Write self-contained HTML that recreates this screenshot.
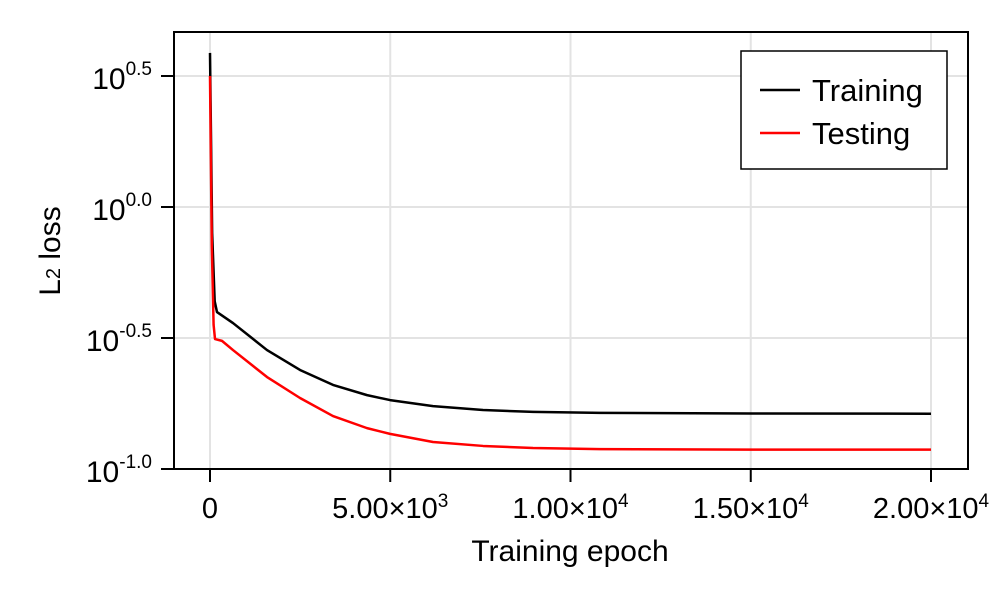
<!DOCTYPE html>
<html><head><meta charset="utf-8"><style>
html,body{margin:0;padding:0;background:#fff;}
svg{display:block;font-family:"Liberation Sans",sans-serif;}
</style></head><body>
<svg id="chart" width="1000" height="600" viewBox="0 0 1000 600" xmlns="http://www.w3.org/2000/svg">
<g id="grid"></g>
<g id="series"></g>
<rect x="174" y="32" width="794" height="437" fill="none" stroke="#000" stroke-width="2"/>
<g id="axes"></g>
<text x="570" y="561" font-size="30" text-anchor="middle">Training epoch</text>
<text transform="translate(60,251) rotate(-90)" font-size="30" text-anchor="middle">L<tspan font-size="20">2</tspan> loss</text>
<g>
<rect x="741" y="51" width="206" height="118" fill="#fff" stroke="#000" stroke-width="1.5"/>
<line x1="760" y1="90" x2="800" y2="90" stroke="#000" stroke-width="2.5"/>
<text x="812" y="101" font-size="31">Training</text>
<line x1="760" y1="133" x2="800" y2="133" stroke="#f00" stroke-width="2.5"/>
<text x="812" y="144" font-size="31">Testing</text>
</g>
</svg>
<script>
const trainEpochs = [0,60,130,194,638,1581,2497,3412,4355,4993,6186,7573,8960,10819,15000,20000];
const trainLog10  = [0.588,-0.1,-0.36,-0.401,-0.443,-0.546,-0.622,-0.679,-0.718,-0.737,-0.760,-0.775,-0.782,-0.786,-0.788,-0.789];
const testEpochs  = [0,50,100,139,333,638,1581,2497,3412,4355,4993,6186,7573,8960,10819,15000,20000];
const testLog10   = [0.5,-0.15,-0.45,-0.504,-0.511,-0.546,-0.649,-0.729,-0.798,-0.844,-0.866,-0.897,-0.912,-0.920,-0.924,-0.926,-0.926];
const xTicks = [0,5000,10000,15000,20000];
const xTickMant = ["0","5.00","1.00","1.50","2.00"];
const xTickExp = ["","3","4","4","4"];
const yTicks = [-1.0,-0.5,0.0,0.5];
const yTickLabels = ["-1.0","-0.5","0.0","0.5"];

const NS="http://www.w3.org/2000/svg";
const xs = v => 210 + v/20000*721;
const ys = v => 207 - v*262;
function mk(tag, attrs, parent){const e=document.createElementNS(NS,tag);for(const k in attrs)e.setAttribute(k,attrs[k]);parent.appendChild(e);return e;}
const grid=document.getElementById('grid'), axes=document.getElementById('axes'), series=document.getElementById('series');

xTicks.forEach((t,i)=>{
  const g=mk('line',{x1:xs(t),x2:xs(t),y1:32,y2:469,stroke:'#e3e3e3','stroke-width':2},grid);
  
  
  const tk=mk('line',{x1:xs(t),x2:xs(t),y1:469,y2:482,stroke:'#000','stroke-width':2},axes);
  
  
  const tx=mk('text',{x:xs(t),y:518,'font-size':29,'text-anchor':'middle'},axes);
  
  
  if(xTickExp[i]){tx.textContent=xTickMant[i]+'×10';const s=mk('tspan',{'font-size':19,dy:-11},tx);s.textContent=xTickExp[i];}
  else tx.textContent=xTickMant[i];
});
yTicks.forEach((t,i)=>{
  if(t>-1){const g=mk('line',{x1:174,x2:968,y1:ys(t),y2:ys(t),stroke:'#e3e3e3','stroke-width':2},grid);
  
  }
  const tk=mk('line',{x1:161,x2:174,y1:ys(t),y2:ys(t),stroke:'#000','stroke-width':2},axes);
  
  
  const tx=mk('text',{x:152,y:ys(t)+13,'font-size':30,'text-anchor':'end'},axes);
  
  
  tx.textContent='10';const s=mk('tspan',{'font-size':19,dy:-14},tx);s.textContent=yTickLabels[i];
});
function path(ex,ly,color,name){
  const d=ex.map((e,i)=>(i?'L':'M')+xs(e).toFixed(2)+','+ys(ly[i]).toFixed(2)).join('');
  const p=mk('path',{d:d,fill:'none',stroke:color,'stroke-width':2.5,'stroke-linejoin':'round'},series);
  
  
}
path(trainEpochs,trainLog10,'#000','training-line');
path(testEpochs,testLog10,'#f00','testing-line');
</script>
</body></html>
